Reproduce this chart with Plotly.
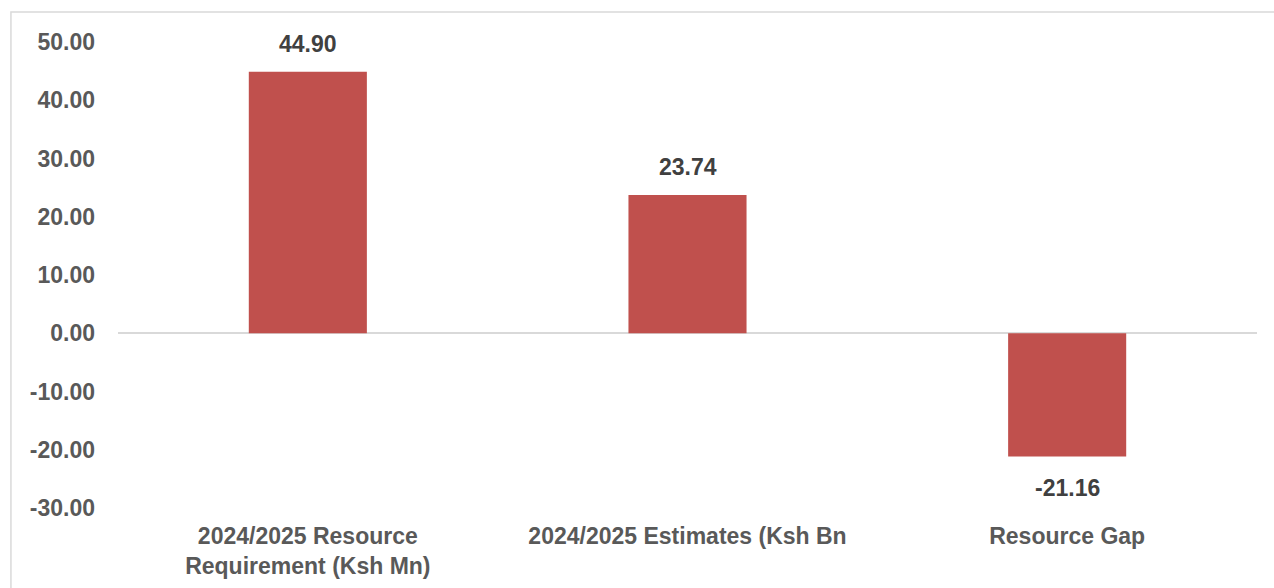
import plotly.graph_objects as go

# Chart data
categories = [
    "2024/2025 Resource<br>Requirement (Ksh Mn)",
    "2024/2025 Estimates (Ksh Bn",
    "Resource Gap",
]
values = [44.90, 23.74, -21.16]
y_ticks = [50, 40, 30, 20, 10, 0, -10, -20, -30]

BAR_COLOR = "#C0504D"
TEXT_COLOR = "#595959"
LABEL_COLOR = "#404040"
FONT = "Liberation Sans, Arial, sans-serif"
FONT_SIZE = 23

fig = go.Figure(
    go.Bar(
        x=categories,
        y=values,
        marker=dict(color=BAR_COLOR, line=dict(width=0)),
        width=0.311,
        hoverinfo="x+y",
    )
)

# Value labels above positive bars, below negative ones
annotations = []
for cat, val in zip(categories, values):
    annotations.append(
        dict(
            x=cat,
            y=val,
            xref="x",
            yref="y",
            text=f"{val:.2f}",
            showarrow=False,
            yanchor="middle",
            yshift=28 if val >= 0 else -31,
            font=dict(family=FONT, size=FONT_SIZE, color=LABEL_COLOR, weight="bold"),
        )
    )

fig.update_layout(
    width=1274,
    height=588,
    margin=dict(l=118, r=17, t=42, b=80),
    paper_bgcolor="white",
    plot_bgcolor="white",
    showlegend=False,
    font=dict(family=FONT, size=FONT_SIZE, color=TEXT_COLOR, weight="bold"),
    annotations=annotations,
    shapes=[
        # outer chart border (top and left visible)
        dict(
            type="rect",
            xref="paper",
            yref="paper",
            x0=-0.094,
            x1=1.1,
            y0=-0.3,
            y1=1.0644,
            line=dict(color="#D9D9D9", width=1.5),
            layer="below",
        )
    ],
)

fig.update_xaxes(
    automargin=False,
    showgrid=False,
    showline=False,
    ticks="",
    ticklabelstandoff=12,
    tickfont=dict(family=FONT, size=FONT_SIZE, color=TEXT_COLOR, weight="bold"),
)

fig.update_yaxes(
    automargin=False,
    range=[-30, 50],
    tickvals=y_ticks,
    ticktext=[f"{t:.2f}" for t in y_ticks],
    showgrid=False,
    zeroline=True,
    zerolinecolor="#D9D9D9",
    zerolinewidth=1.5,
    showline=False,
    ticks="",
    ticklabelstandoff=22,
    tickfont=dict(family=FONT, size=FONT_SIZE, color=TEXT_COLOR, weight="bold"),
)

fig.write_html("out.html")
